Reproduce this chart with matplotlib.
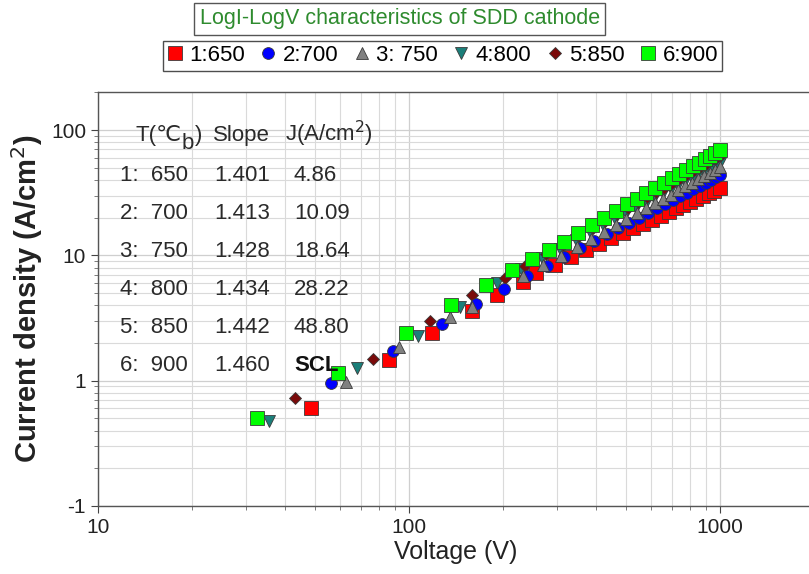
import matplotlib
matplotlib.use('Agg')
import matplotlib.pyplot as plt
from matplotlib.ticker import FixedLocator, FixedFormatter, LogLocator, NullFormatter

plt.rcParams['font.family'] = ['Liberation Sans', 'DejaVu Sans']

# 1: 650 C
v1 = [48.5, 86, 118.6, 159, 192, 232, 257, 295, 333, 370, 410, 448, 488, 527, 566,
      605, 645, 685, 723, 762, 800, 840, 880, 920, 960, 1000]
j1 = [0.61, 1.47, 2.38, 3.63, 4.79, 6.1, 7.3, 8.4, 9.7, 11.0, 12.3, 13.7, 15.1, 16.5, 17.9,
      19.3, 20.8, 22.3, 23.7, 25.2, 26.6, 28.2, 29.7, 31.3, 32.8, 34.4]
# 2: 700 C
v2 = [56, 89, 128, 164, 202, 240, 278, 316, 355, 393, 432, 470, 510, 548, 587, 626,
      665, 704, 743, 782, 822, 861, 900, 935, 968, 1000]
j2 = [0.95, 1.74, 2.85, 4.1, 5.35, 6.84, 8.28, 9.78, 11.4, 13.0, 14.7, 16.4, 18.2, 20.0, 21.9, 23.8,
      25.7, 27.7, 29.7, 31.7, 33.9, 36.0, 38.1, 40.0, 41.9, 43.7]
# 3: 750 C
v3 = [63, 93, 136, 160, 232, 270, 308, 346, 385, 423, 462, 500, 540, 578, 617, 656,
      695, 735, 774, 813, 852, 891, 930, 965, 1000]
j3 = [0.98, 1.84, 3.2, 3.84, 6.9, 8.31, 9.96, 11.7, 13.6, 15.4, 17.4, 19.4, 21.6, 23.8, 26.0, 28.3,
      30.6, 33.1, 35.5, 38.0, 40.6, 43.2, 45.8, 48.2, 50.6]
# 4: 800 C
v4 = [35.5, 68, 107, 146, 192, 230, 268, 306, 345, 383, 422, 460, 500, 538, 577, 616,
      655, 694, 733, 772, 811, 850, 890, 928, 965, 1000]
j4 = [0.48, 1.27, 2.29, 3.84, 6.07, 7.73, 9.48, 11.3, 13.3, 15.3, 17.4, 19.5, 21.8, 24.0, 26.4, 28.8,
      31.3, 33.8, 36.3, 38.9, 41.6, 44.3, 47.1, 49.8, 52.4, 55.0]
# 5: 850 C
v5 = [43, 76.5, 117, 159, 203, 237, 275, 313, 352, 390, 428, 467, 506, 545, 583, 622,
      661, 700, 739, 778, 817, 856, 895, 932, 966, 1000]
j5 = [0.73, 1.50, 3.0, 4.87, 6.55, 8.3, 10.2, 12.2, 14.4, 16.6, 18.9, 21.4, 23.9, 26.6, 29.2, 31.9,
      34.8, 37.7, 40.6, 43.7, 46.8, 49.9, 53.1, 56.2, 59.1, 62.0]
# 6: 900 C
v6 = [32.5, 59, 98, 137, 177, 215, 248, 282, 315, 350, 387, 424, 463, 503, 542, 580,
      620, 660, 700, 740, 780, 818, 856, 894, 930, 965, 1000]
j6 = [0.50, 1.16, 2.42, 4.05, 5.75, 7.7, 9.4, 11.0, 12.9, 15.1, 17.4, 19.9, 22.6, 25.5, 28.4, 31.3,
      34.5, 37.8, 41.1, 44.6, 48.1, 51.6, 55.1, 58.7, 62.1, 65.5, 69.0]

labels = ['1:650', '2:700', '3: 750', '4:800', '5:850', '6:900']

# fit table
tbl_temp = ['1:  650', '2:  700', '3:  750', '4:  800', '5:  850', '6:  900']
tbl_slope = ['1.401', '1.413', '1.428', '1.434', '1.442', '1.460']
tbl_j = ['4.86', '10.09', '18.64', '28.22', '48.80', 'SCL']

xtick_vals = [10, 100, 1000]
xtick_text = ['10', '100', '1000']
ytick_vals = [0.1, 1, 10, 100]
ytick_text = ['-1', '1', '10', '100']

fig = plt.figure(figsize=(8.09, 5.74), dpi=100)
ax = fig.add_axes([0.121, 0.1185, 0.8846, 0.7206])
ax.set_xscale('log')
ax.set_yscale('log')
ax.set_xlim(10, 2000)
ax.set_ylim(0.1, 200)

ec = '#3a3a3a'
series = [
    (v4, j4, 'v', '#1b7f7a', 8.5, 2.5),
    (v5, j5, 'D', '#7a0a0a', 6.5, 2.6),
    (v1, j1, 's', '#ff0000', 9.5, 3),
    (v2, j2, 'o', '#0000ff', 8.5, 4),
    (v3, j3, '^', '#808080', 8.5, 5),
    (v6, j6, 's', '#00ff00', 9.5, 6),
]
handles = {}
for v, j, m, c, ms, z in series:
    ln, = ax.plot(v, j, linestyle='none', marker=m, markersize=ms, markerfacecolor=c,
                  markeredgecolor=ec, markeredgewidth=0.6, zorder=z)
    handles[m + c] = ln
order = ['s#ff0000', 'o#0000ff', '^#808080', 'v#1b7f7a', 'D#7a0a0a', 's#00ff00']
hl = [handles[k] for k in order]

ax.grid(True, which='major', color='#cfcfcf', lw=0.9)
ax.grid(True, which='minor', color='#dadada', lw=0.8)
ax.set_axisbelow(True)

ax.xaxis.set_major_locator(FixedLocator(xtick_vals))
ax.xaxis.set_major_formatter(FixedFormatter(xtick_text))
ax.yaxis.set_major_locator(FixedLocator(ytick_vals))
ax.yaxis.set_major_formatter(FixedFormatter(ytick_text))
ax.yaxis.set_minor_locator(LogLocator(base=10, subs=range(2, 10)))
ax.yaxis.set_minor_formatter(NullFormatter())
ax.xaxis.set_minor_locator(LogLocator(base=10, subs=range(2, 10)))
ax.xaxis.set_minor_formatter(NullFormatter())
ax.tick_params(which='major', direction='out', length=5, width=0.8, colors='#444444',
               labelsize=15, labelcolor='#222222')
ax.tick_params(which='minor', direction='out', length=3, width=0.6, colors='#666666')
for s in ax.spines.values():
    s.set_color('#555555')
    s.set_linewidth(1.0)

ax.set_xlabel('Voltage (V)', fontsize=18, color='#222222', labelpad=2)
ax.set_ylabel('Current density (A/cm$^2$)', fontsize=21, fontweight='bold',
              color='#222222', labelpad=4)

# table of fit results
tc = '#2a2a2a'
fs = 16
hdr = fig.text(135 / 809, 1 - 141 / 574, '\u0054(\u2103', fontsize=fs, color=tc, va='baseline')
sub = ax.annotate('b', xy=(1.0, 0.12), xycoords=hdr, fontsize=fs, color=tc,
                  va='center', ha='left')
ax.annotate(')', xy=(1.0, 0.0), xycoords=(sub, hdr), fontsize=fs, color=tc,
            va='bottom', ha='left', xytext=(1, 0), textcoords='offset points')
fig.text(213 / 809, 1 - 141 / 574, 'Slope', fontsize=fs, color=tc, va='baseline')
fig.text(285 / 809, 1 - 141 / 574, 'J(A/cm$^2$)', fontsize=fs, color=tc, va='baseline')
row_y = [181, 219, 257, 295, 333, 371]
for k in range(6):
    yy = 1 - row_y[k] / 574
    fig.text(120 / 809, yy, tbl_temp[k], fontsize=fs, color=tc, va='baseline')
    fig.text(214 / 809, yy, tbl_slope[k], fontsize=fs, color=tc, va='baseline')
    fig.text(294 / 809, yy, tbl_j[k], fontsize=fs, color='#111111' if k == 5 else tc,
             va='baseline', fontweight='bold' if k == 5 else 'normal')

# title box
fig.text(0.494, 0.967, 'LogI-LogV characteristics of SDD cathode', fontsize=15.5,
         color='#2e8b2e', ha='center', va='center',
         bbox=dict(boxstyle='square,pad=0.25', fc='white', ec='#555555', lw=1.0))

leg = fig.legend(hl, labels, loc='center', bbox_to_anchor=(0.547, 0.903), ncol=6,
                 fontsize=16, frameon=True, fancybox=False, handlelength=0.7,
                 handletextpad=0.3, columnspacing=0.7, borderpad=0.2, borderaxespad=0)
leg.get_frame().set_edgecolor('#222222')
leg.get_frame().set_linewidth(1.0)

fig.savefig('out.png', dpi=100)
